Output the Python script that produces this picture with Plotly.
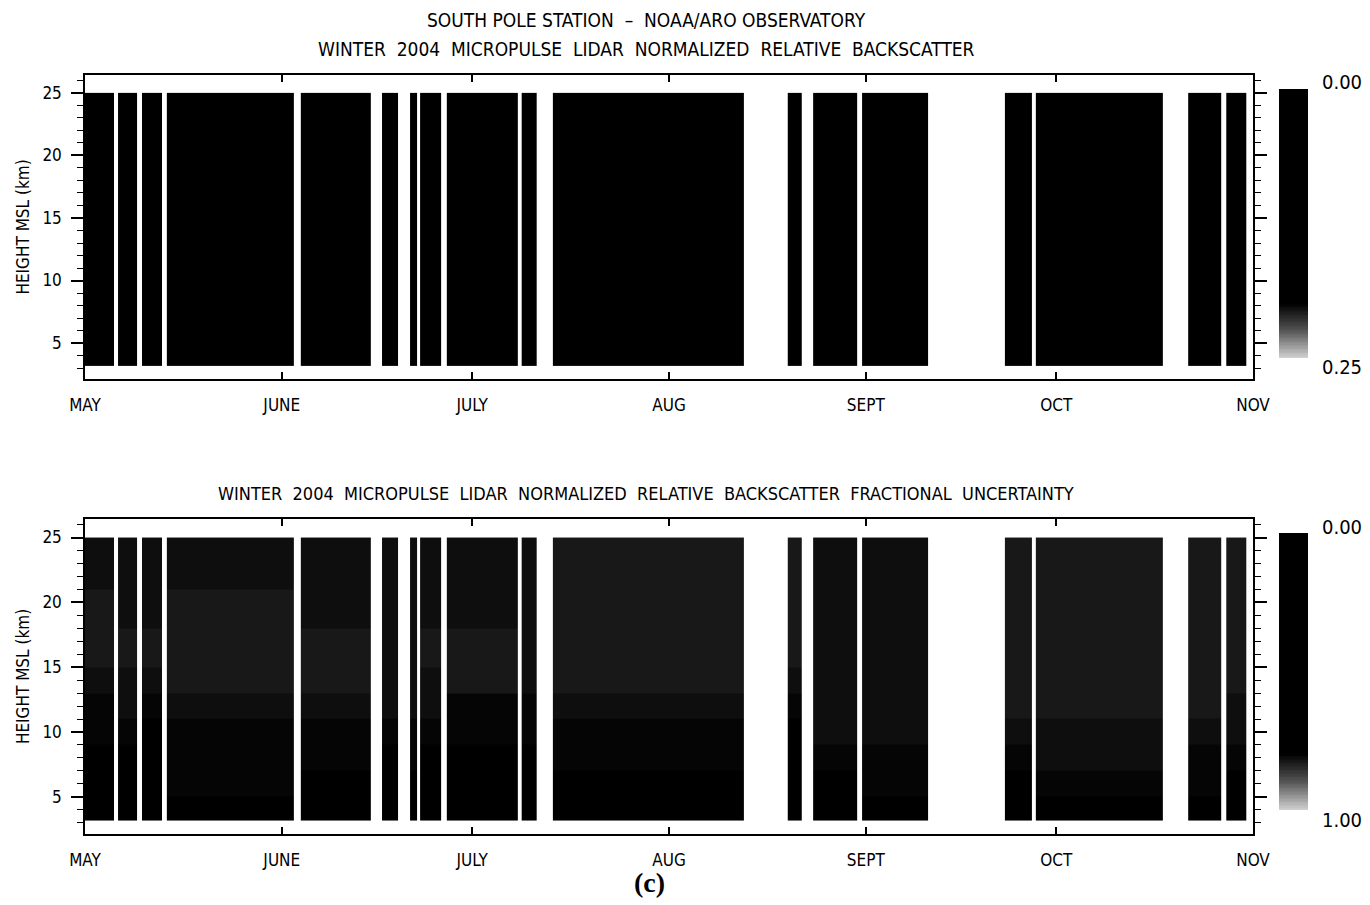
import plotly.graph_objects as go

# ---------------- data ----------------
# observation periods of the micropulse lidar (start, end)
seg_start = ["2004-05-01 00:00", "2004-05-06 05:00", "2004-05-09 23:30", "2004-05-13 21:30",
             "2004-06-04 00:00", "2004-06-16 19:00", "2004-06-21 05:00", "2004-06-22 19:00",
             "2004-06-27 00:00", "2004-07-08 19:00", "2004-07-13 17:00", "2004-08-19 17:00",
             "2004-08-23 17:00", "2004-08-31 10:00", "2004-09-22 22:00", "2004-09-27 19:00",
             "2004-10-21 19:00", "2004-10-27 19:00"]
seg_end = ["2004-05-05 13:40", "2004-05-09 04:30", "2004-05-13 02:30", "2004-06-02 21:30",
           "2004-06-15 00:00", "2004-06-19 07:00", "2004-06-22 07:00", "2004-06-26 02:30",
           "2004-07-08 05:00", "2004-07-11 02:30", "2004-08-12 19:00", "2004-08-21 22:00",
           "2004-08-30 14:00", "2004-09-10 19:00", "2004-09-27 05:00", "2004-10-17 19:00",
           "2004-10-26 22:00", "2004-10-30 22:00"]

# normalized relative backscatter (top panel), height band edges (km) and values
bs_height_edges = [3.2, 4.0, 25.0]
bs_values = [0.03, 0.01]

# fractional uncertainty (bottom panel), height band edges (km) and values per period
unc_height_edges = [3.2, 5, 7, 9, 11, 13, 15, 18, 21, 25]
unc_values = [
    [0.30, 0.30, 0.30, 0.806, 0.806, 0.816, 0.828, 0.828, 0.816],
    [0.30, 0.30, 0.30, 0.806, 0.816, 0.816, 0.828, 0.816, 0.816],
    [0.30, 0.30, 0.30, 0.30, 0.806, 0.816, 0.828, 0.816, 0.816],
    [0.30, 0.806, 0.806, 0.806, 0.816, 0.828, 0.828, 0.828, 0.816],
    [0.30, 0.30, 0.806, 0.806, 0.816, 0.828, 0.828, 0.816, 0.816],
    [0.30, 0.30, 0.30, 0.806, 0.816, 0.816, 0.816, 0.816, 0.816],
    [0.30, 0.30, 0.806, 0.806, 0.816, 0.816, 0.816, 0.816, 0.816],
    [0.30, 0.30, 0.30, 0.806, 0.816, 0.816, 0.828, 0.816, 0.816],
    [0.30, 0.30, 0.30, 0.806, 0.806, 0.828, 0.828, 0.816, 0.816],
    [0.30, 0.30, 0.30, 0.806, 0.806, 0.816, 0.816, 0.816, 0.816],
    [0.30, 0.30, 0.806, 0.806, 0.816, 0.828, 0.828, 0.828, 0.828],
    [0.30, 0.30, 0.30, 0.30, 0.806, 0.816, 0.828, 0.828, 0.828],
    [0.30, 0.30, 0.806, 0.816, 0.816, 0.816, 0.816, 0.816, 0.816],
    [0.30, 0.806, 0.806, 0.816, 0.816, 0.816, 0.816, 0.816, 0.816],
    [0.30, 0.30, 0.806, 0.816, 0.828, 0.828, 0.828, 0.828, 0.828],
    [0.30, 0.806, 0.816, 0.816, 0.828, 0.828, 0.828, 0.828, 0.828],
    [0.30, 0.806, 0.806, 0.816, 0.828, 0.828, 0.828, 0.828, 0.828],
    [0.30, 0.30, 0.806, 0.816, 0.816, 0.828, 0.828, 0.828, 0.828],
]

month_ticks = ["2004-05-01", "2004-06-01", "2004-07-01", "2004-08-01",
               "2004-09-01", "2004-10-01", "2004-11-01"]
month_labels = ["MAY", "JUNE", "JULY", "AUG", "SEPT", "OCT", "NOV"]

bs_range = [0.0, 0.25]
unc_range = [0.0, 1.0]
bs_cb_labels = ["0.00", "0.25"]
unc_cb_labels = ["0.00", "1.00"]

title_top = ["SOUTH POLE STATION  \u2013  NOAA/ARO OBSERVATORY",
             "WINTER  2004  MICROPULSE  LIDAR  NORMALIZED  RELATIVE  BACKSCATTER"]
title_bottom = "WINTER  2004  MICROPULSE  LIDAR  NORMALIZED  RELATIVE  BACKSCATTER  FRACTIONAL  UNCERTAINTY"
y_title = "HEIGHT MSL (km)"

# ---------------- styling ----------------
W, H = 1370, 905
FONT = "Liberation Sans Narrow, Arial Narrow, DejaVu Sans Condensed, Liberation Sans, Arial, sans-serif"
FS = 17
FS_TITLE = 19
FS_TITLE2 = 18
FS_CB = 20
scale = [[0.0, "#000000"], [0.8, "#000000"], [0.9, "#555555"], [1.0, "#d0d0d0"]]


def px_x(p):
    return p / W


def px_y(p):
    return 1 - p / H


fig = go.Figure()

# top panel
for s, e in zip(seg_start, seg_end):
    fig.add_trace(go.Heatmap(x=[s, e], y=bs_height_edges, z=[[v] for v in bs_values],
                             coloraxis="coloraxis", xaxis="x", yaxis="y", hoverinfo="skip"))
# bottom panel
for s, e, col in zip(seg_start, seg_end, unc_values):
    fig.add_trace(go.Heatmap(x=[s, e], y=unc_height_edges, z=[[v] for v in col],
                             coloraxis="coloraxis2", xaxis="x2", yaxis="y2", hoverinfo="skip"))

# colour bars drawn as small heatmaps on their own axes
n = 200
bs_grad = [bs_range[0] + (bs_range[1] - bs_range[0]) * i / (n - 1) for i in range(n)]
unc_grad = [unc_range[0] + (unc_range[1] - unc_range[0]) * i / (n - 1) for i in range(n)]
fig.add_trace(go.Heatmap(x=[0, 1], y=bs_grad, z=[[v] for v in bs_grad], coloraxis="coloraxis",
                         xaxis="x3", yaxis="y3", hoverinfo="skip"))
fig.add_trace(go.Heatmap(x=[0, 1], y=unc_grad, z=[[v] for v in unc_grad], coloraxis="coloraxis2",
                         xaxis="x4", yaxis="y4", hoverinfo="skip"))

xdom = [px_x(85), px_x(1253)]
xaxis_common = dict(type="date", range=["2004-05-01", "2004-11-01"], tickmode="array",
                    tickvals=month_ticks, ticktext=month_labels, ticks="inside", ticklen=7,
                    tickwidth=1.5, tickcolor="black", showline=True, linecolor="black",
                    linewidth=1.5, mirror="allticks", showgrid=False, zeroline=False,
                    tickfont=dict(family=FONT, size=FS, color="black"), ticklabelstandoff=10,
                    domain=xdom, automargin=False)
yaxis_common = dict(range=[2.13, 26.43], tickmode="linear", tick0=0, dtick=5, ticks="outside",
                    ticklen=12, tickwidth=1.5, tickcolor="black",
                    minor=dict(dtick=1, tick0=0, ticks="outside", ticklen=6, tickwidth=1.2,
                               tickcolor="black", showgrid=False),
                    showline=True, linecolor="black", linewidth=1.5, mirror="allticks",
                    showgrid=False, zeroline=False, ticklabelstandoff=6, automargin=False,
                    tickfont=dict(family=FONT, size=FS, color="black"),
                    title=dict(text=y_title, font=dict(family=FONT, size=FS, color="black"),
                               standoff=8))

fig.update_layout(
    width=W, height=H, autosize=False,
    margin=dict(l=0, r=0, t=0, b=0, autoexpand=False),
    paper_bgcolor="white", plot_bgcolor="white",
    showlegend=False,
    xaxis=dict(**xaxis_common, anchor="y"),
    yaxis=dict(**yaxis_common, anchor="x", domain=[px_y(379), px_y(75)]),
    xaxis2=dict(**xaxis_common, anchor="y2"),
    yaxis2=dict(**yaxis_common, anchor="x2", domain=[px_y(834), px_y(519)]),
    xaxis3=dict(domain=[px_x(1279), px_x(1308)], anchor="y3", visible=False, range=[0, 1]),
    yaxis3=dict(domain=[px_y(358), px_y(89)], anchor="x3", visible=False,
                range=[bs_range[1], bs_range[0]]),
    xaxis4=dict(domain=[px_x(1279), px_x(1308)], anchor="y4", visible=False, range=[0, 1]),
    yaxis4=dict(domain=[px_y(810), px_y(533)], anchor="x4", visible=False,
                range=[unc_range[1], unc_range[0]]),
    coloraxis=dict(colorscale=scale, cmin=bs_range[0], cmax=bs_range[1], showscale=False),
    coloraxis2=dict(colorscale=scale, cmin=unc_range[0], cmax=unc_range[1], showscale=False),
)

ann = []
ann.append(dict(text=title_top[0], x=px_x(646), y=px_y(20), size=FS_TITLE))
ann.append(dict(text=title_top[1], x=px_x(646), y=px_y(49), size=FS_TITLE))
ann.append(dict(text=title_bottom, x=px_x(646), y=px_y(493), size=FS_TITLE2))
ann.append(dict(text=bs_cb_labels[0], x=px_x(1342), y=px_y(82), size=FS_CB))
ann.append(dict(text=bs_cb_labels[1], x=px_x(1342), y=px_y(367), size=FS_CB))
ann.append(dict(text=unc_cb_labels[0], x=px_x(1342), y=px_y(527), size=FS_CB))
ann.append(dict(text=unc_cb_labels[1], x=px_x(1342), y=px_y(820), size=FS_CB))
for a in ann:
    size = a.pop("size")
    fig.add_annotation(xref="paper", yref="paper", showarrow=False, xanchor="center",
                       yanchor="middle", font=dict(family=FONT, size=size, color="black"), **a)
fig.add_annotation(text="<b>(c)</b>", xref="paper", yref="paper", x=px_x(649), y=px_y(882),
                   showarrow=False, xanchor="center", yanchor="middle",
                   font=dict(family="Liberation Serif, Times New Roman, serif", size=28,
                             color="black"))

fig.write_html("out.html")
